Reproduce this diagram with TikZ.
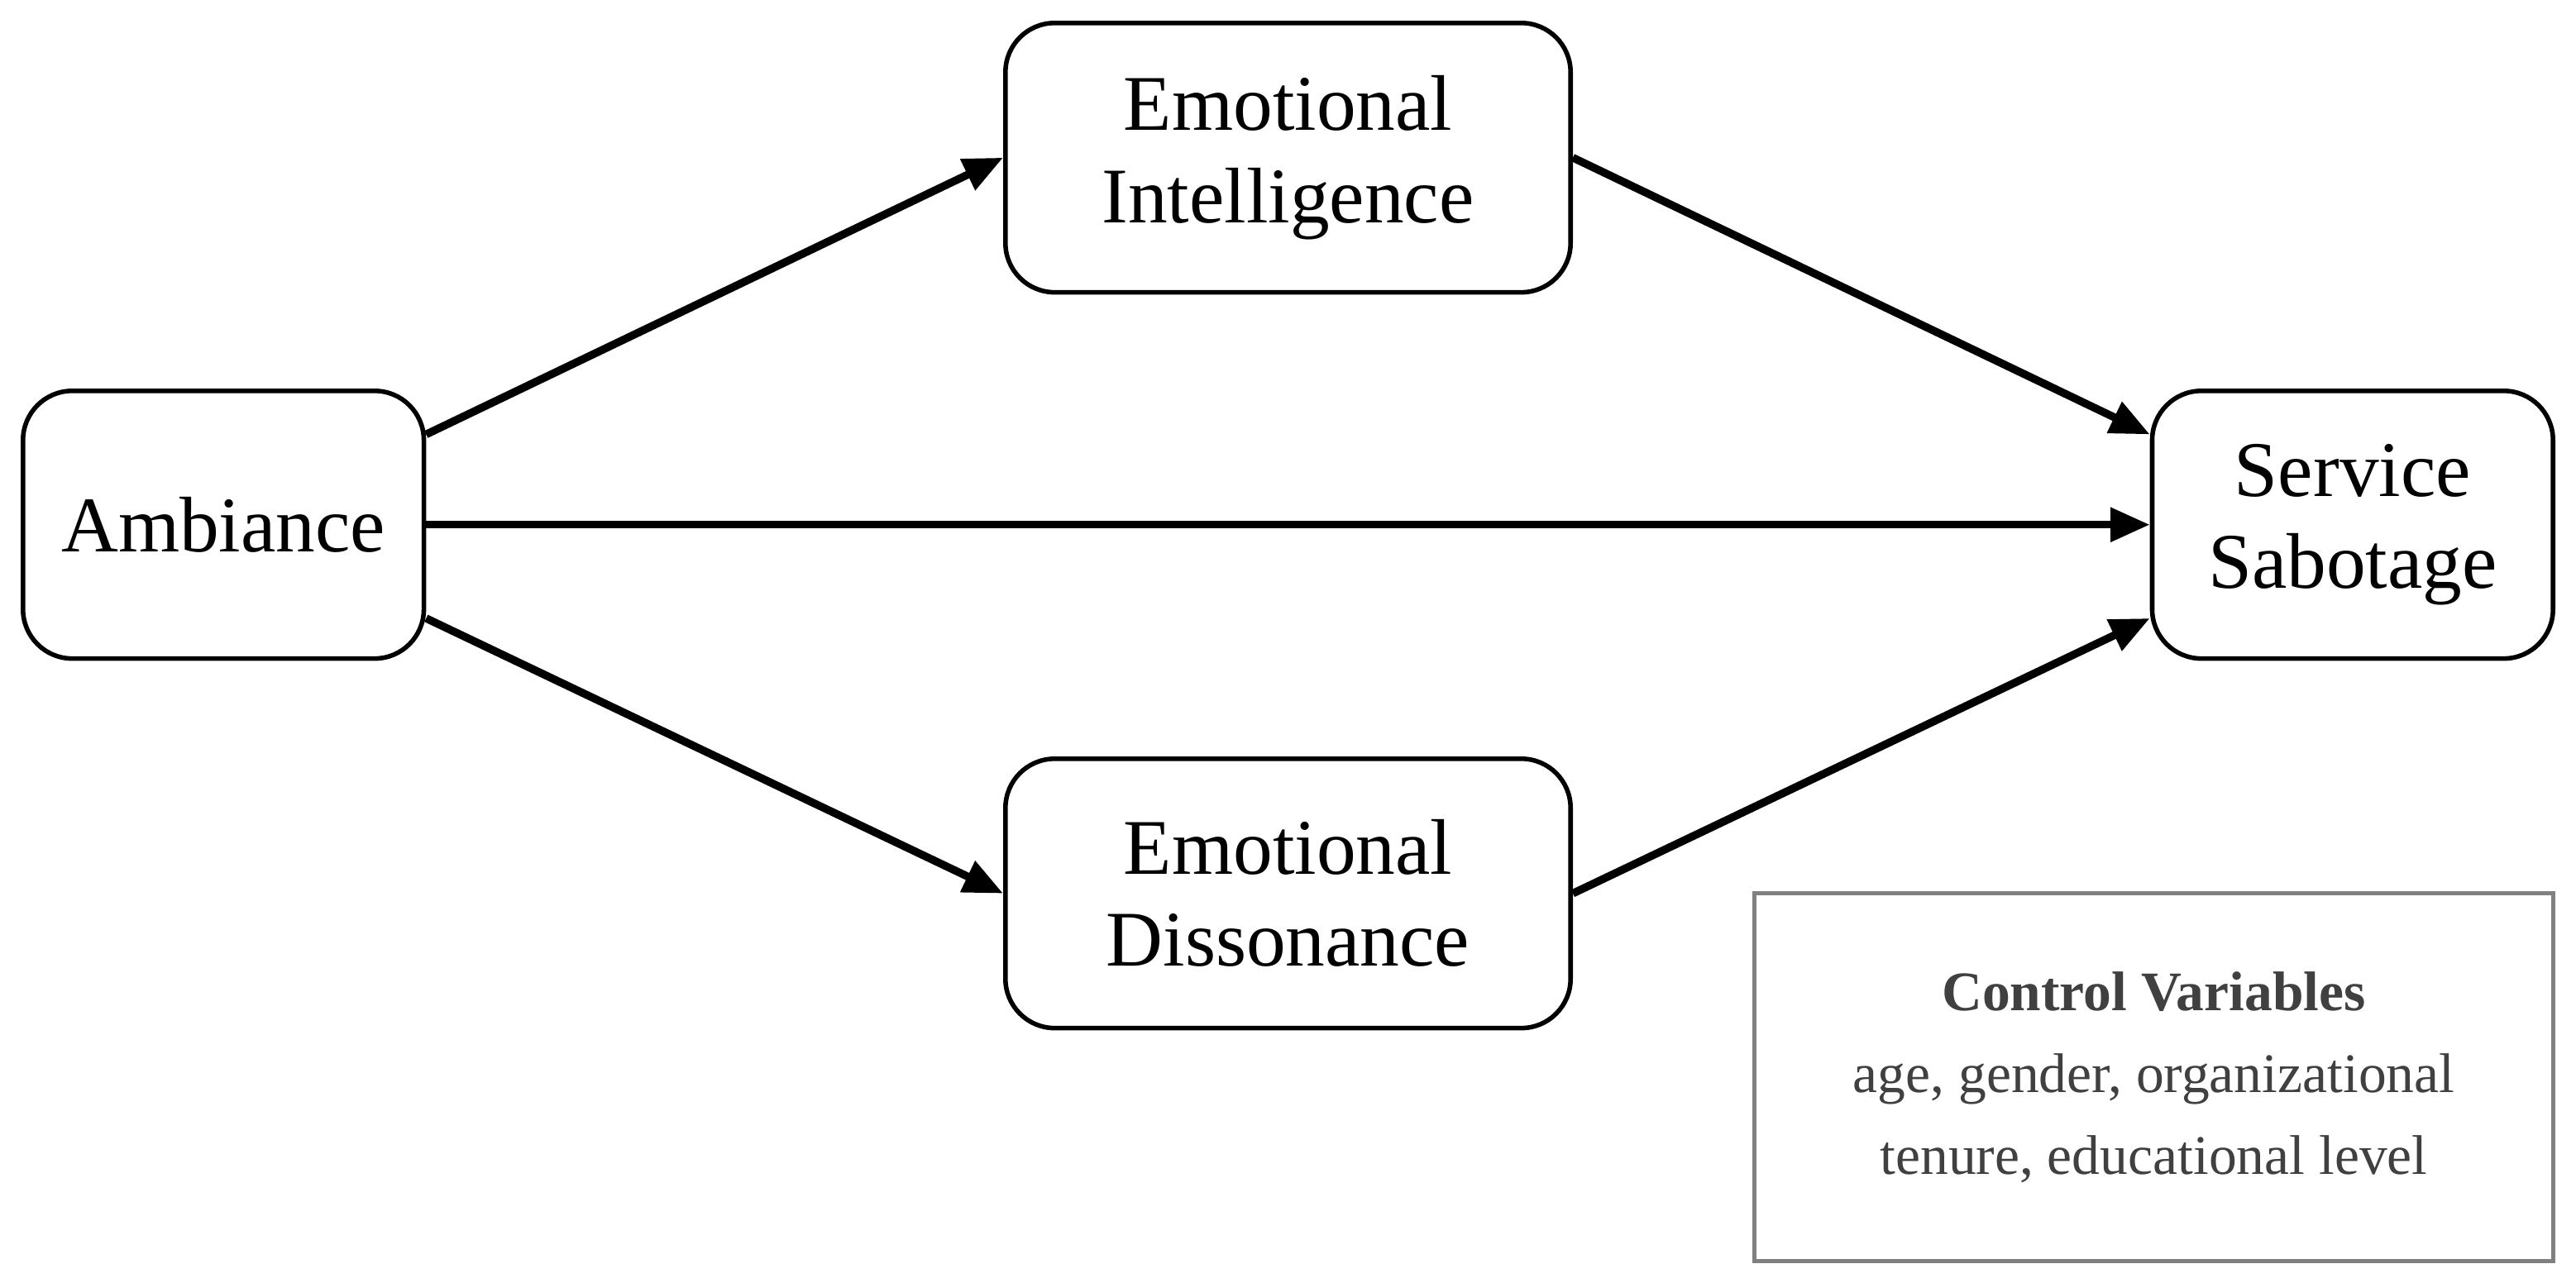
\documentclass[tikz,border=0pt]{standalone}
\usepackage{fontspec}
\setmainfont{Liberation Serif}
\usetikzlibrary{arrows.meta,calc}
\begin{document}
\begin{tikzpicture}[x=0.5pt,y=-0.5pt,
  box/.style={draw,line width=1.4pt,rounded corners=15pt,align=center,font=\fontsize{24}{28}\selectfont,inner sep=0pt},
  arr/.style={line width=2.4pt,-{Triangle[length=12pt,width=10pt]}}]
\useasboundingbox (0,0) rectangle (1568,781);
\node[box,minimum width=122pt,minimum height=81.5pt] (a) at (136,319.5) {Ambiance};
\node[box,minimum width=172pt,minimum height=82pt] (ei) at (784,96) {Emotional\\Intelligence};
\node[box,minimum width=172pt,minimum height=82pt] (ed) at (784,544) {Emotional\\Dissonance};
\node[box,minimum width=122pt,minimum height=81.5pt] (ss) at (1432,319.5) {Service\\Sabotage};
\node[draw=black!50,line width=1.3pt,minimum width=243pt,minimum height=112pt,align=center,text=black!75,font=\fontsize{17}{25}\selectfont,inner sep=0pt] (cv) at (1311,656) {\textbf{Control Variables}\\age, gender, organizational\\tenure, educational level};
\coordinate (a1) at ($(a.east)+(0,-55)$);
\coordinate (a3) at ($(a.east)+(0,57)$);
\coordinate (s1) at ($(ss.west)+(0,-55)$);
\coordinate (s3) at ($(ss.west)+(0,57)$);
\draw[arr] (a1) -- (ei.west);
\draw[arr] (a.east) -- (ss.west);
\draw[arr] (a3) -- (ed.west);
\draw[arr] (ei.east) -- (s1);
\draw[arr] (ed.east) -- (s3);
\end{tikzpicture}
\end{document}
